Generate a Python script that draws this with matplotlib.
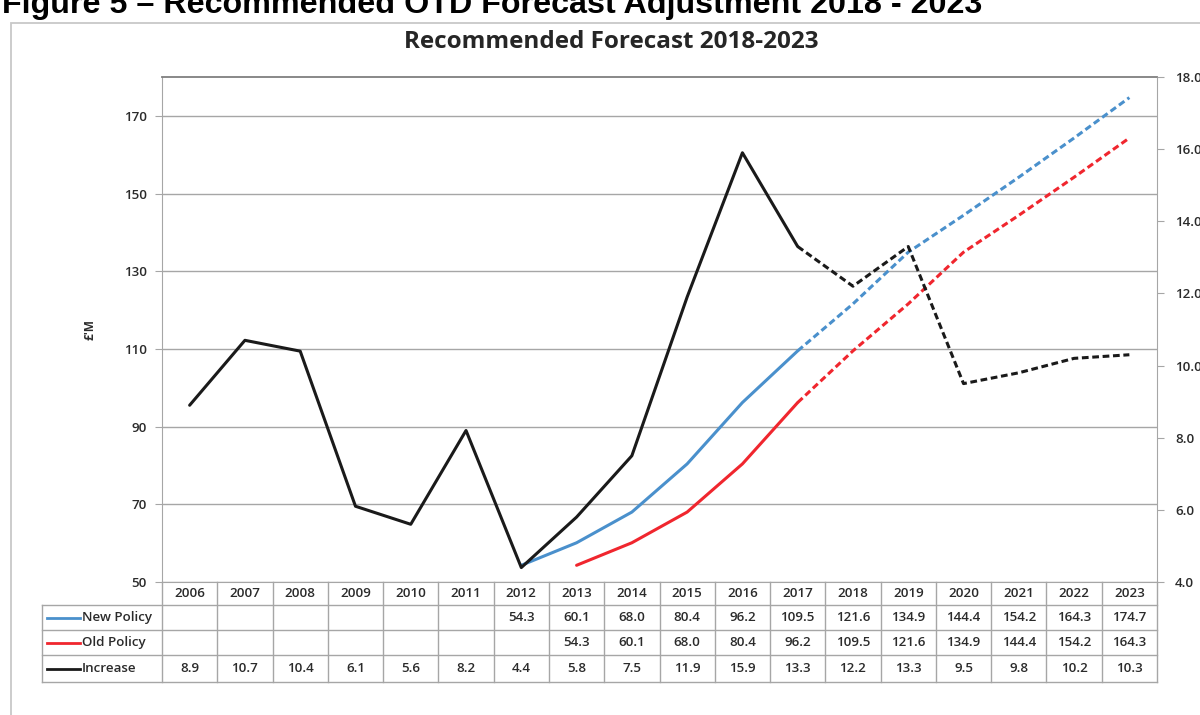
import numpy as np
import matplotlib.pyplot as plt
import matplotlib.transforms as mtransforms
from matplotlib.lines import Line2D
from matplotlib.patches import Rectangle

years = list(range(2006, 2024))
new_policy = [None, None, None, None, None, None, 54.3, 60.1, 68.0, 80.4, 96.2,
              109.5, 121.6, 134.9, 144.4, 154.2, 164.3, 174.7]
old_policy = [None, None, None, None, None, None, None, 54.3, 60.1, 68.0, 80.4,
              96.2, 109.5, 121.6, 134.9, 144.4, 154.2, 164.3]
increase = [8.9, 10.7, 10.4, 6.1, 5.6, 8.2, 4.4, 5.8, 7.5, 11.9, 15.9, 13.3,
            12.2, 13.3, 9.5, 9.8, 10.2, 10.3]
forecast_from = 2017

plt.rcParams['font.family'] = ['Open Sans', 'DejaVu Sans']

W, H = 1200, 715
fig = plt.figure(figsize=(W / 100, H / 100), dpi=100)
left, right, top, bottom = 162, 1157, 77, 582
ax = fig.add_axes([left / W, 1 - bottom / H, (right - left) / W, (bottom - top) / H])
ax2 = ax.twinx()

txt = '#2B2B2B'
grid = '#A6A6A6'
fs = 9.6
fw = 'semibold'

# outer frame of the chart object
fig.add_artist(Rectangle((11 / W, -0.05), 1.2, 1 - 23 / H + 0.05, transform=fig.transFigure,
                         fill=False, edgecolor='#C8C8C8', lw=1.3))

# page heading (cut off at the top, as in the source page)
fig.text(2 / W, 1 - 13 / H, 'Figure 5 – Recommended OTD Forecast Adjustment 2018 - 2023',
         family=['Liberation Sans', 'DejaVu Sans'], fontweight='bold', fontsize=23.2,
         va='baseline', ha='left', color='black')

fig.text(611 / W, 1 - 42 / H, 'Recommended Forecast 2018-2023', ha='center', va='center',
         fontsize=17.5, fontweight='bold', color='#262626')

cut = years.index(forecast_from)


def split_plot(axis, vals, color):
    xs = [i for i, v in enumerate(vals) if v is not None]
    ys = [vals[i] for i in xs]
    solid = [(a, b) for a, b in zip(xs, ys) if a <= cut]
    dash = [(a, b) for a, b in zip(xs, ys) if a >= cut]
    axis.plot([p[0] for p in solid], [p[1] for p in solid], color=color, lw=2.2,
              solid_capstyle='round', solid_joinstyle='round')
    axis.plot([p[0] for p in dash], [p[1] for p in dash], color=color, lw=2.2,
              linestyle=(0, (2.2, 1.2)))


blue = '#4A90CC'
red = '#F0262E'
black = '#1A1A1A'
split_plot(ax, new_policy, blue)
split_plot(ax, old_policy, red)
split_plot(ax2, increase, black)

ax.set_xlim(-0.5, len(years) - 0.5)
ax.set_ylim(50, 180)
ax.set_yticks(range(50, 171, 20))
ax.set_xticks([])
ax.grid(axis='y', color=grid, lw=1)
ax.set_axisbelow(True)
ax.tick_params(axis='y', length=5, color=grid, labelsize=fs, labelcolor=txt, pad=6)
for s in ['left', 'right', 'bottom']:
    ax.spines[s].set_color(grid)
ax.spines['top'].set_color('#7F7F7F')
ax.spines['top'].set_linewidth(1.3)
ax.set_ylabel("£'M", fontsize=8.5, fontweight='bold', color=txt)
ax.yaxis.set_label_coords((97 - left) / (right - left), 0.5)

ax2.set_ylim(4, 18)
ax2.set_yticks(np.arange(4, 18.1, 2))
ax2.set_yticklabels(['%.1f' % v for v in np.arange(4, 18.1, 2)])
ax2.tick_params(axis='y', length=5, color=grid, labelsize=fs, labelcolor=txt, pad=8)
for s in ax2.spines.values():
    s.set_visible(False)
for lab in ax.get_yticklabels() + ax2.get_yticklabels():
    lab.set_fontweight(fw)

# data table under the plot
trans = mtransforms.blended_transform_factory(ax.transData, ax.transAxes)
ph = bottom - top
colw = (right - left) / len(years)
rows = [0, 23, 48, 73, 100]
ry = [-r / ph for r in rows]
lab_left = -0.5 - (left - 42) / colw

for k in range(len(years) + 1):
    ax.add_artist(Line2D([k - 0.5, k - 0.5], [ry[0], ry[-1]], transform=trans,
                         color=grid, lw=1, clip_on=False))
ax.add_artist(Line2D([lab_left, lab_left], [ry[1], ry[-1]], transform=trans,
                     color=grid, lw=1, clip_on=False))
for r in ry[1:]:
    ax.add_artist(Line2D([lab_left, len(years) - 0.5], [r, r], transform=trans,
                         color=grid, lw=1, clip_on=False))

for i, yr in enumerate(years):
    ax.text(i, (ry[0] + ry[1]) / 2, str(yr), transform=trans, ha='center', va='center',
            fontsize=fs, fontweight=fw, color=txt, clip_on=False)

series = [('New Policy', new_policy, blue), ('Old Policy', old_policy, red),
          ('Increase', increase, black)]
for j, (name, vals, col) in enumerate(series):
    yc = (ry[j + 1] + ry[j + 2]) / 2
    ax.add_artist(Line2D([-0.5 - (left - 47) / colw, -0.5 - (left - 80) / colw], [yc, yc],
                         transform=trans, color=col, lw=2, clip_on=False))
    ax.text(-0.5 - (left - 82) / colw, yc, name, transform=trans, ha='left', va='center',
            fontsize=fs, fontweight=fw, color=txt, clip_on=False)
    for i, v in enumerate(vals):
        if v is not None:
            ax.text(i, yc, '%.1f' % v, transform=trans, ha='center', va='center',
                    fontsize=fs, fontweight=fw, color=txt, clip_on=False)

fig.savefig('out.png', dpi=100)
